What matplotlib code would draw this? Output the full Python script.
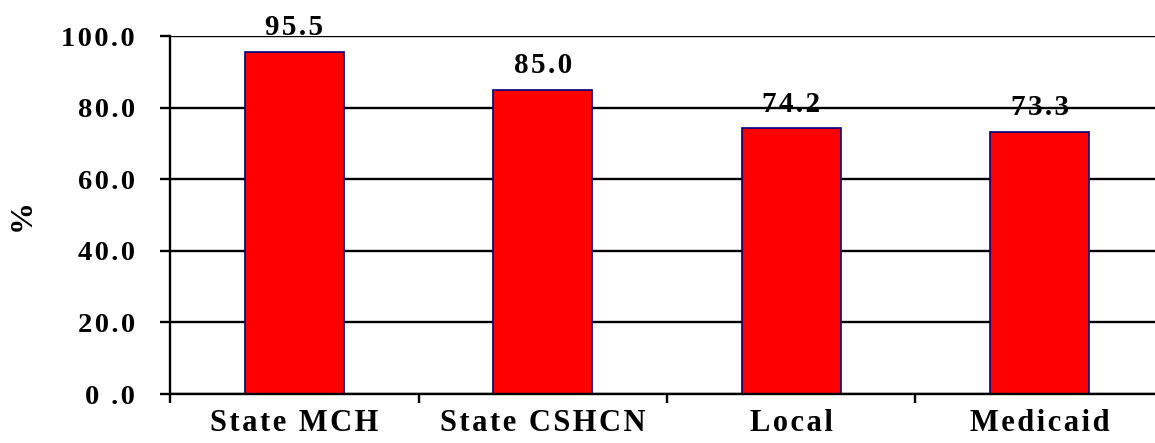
import matplotlib.pyplot as plt

categories = ["State MCH", "State CSHCN", "Local", "Medicaid"]
values = [95.5, 85.0, 74.2, 73.3]
y_ticks = [0, 20, 40, 60, 80, 100]
y_tick_labels = ["0 .0", "20.0", "40.0", "60.0", "80.0", "100.0"]

SERIF = ["Liberation Serif", "DejaVu Serif"]
HAIR = "\u200a"


def spaced(text, gap):
    # loose letter spacing, the way the old spreadsheet chart renders it
    return gap.join(text)


fig = plt.figure(figsize=(11.55, 4.43), dpi=100)
ax = fig.add_axes([170 / 1155, 49 / 443, 994 / 1155, 358 / 443])

x = list(range(len(categories)))
bars = ax.bar(x, values, width=0.4, color="#ff0000", edgecolor="#000080",
              linewidth=1.2, zorder=2)

ax.set_xlim(-0.5, 3.5)
ax.set_ylim(0, 100)
ax.set_axisbelow(True)
ax.yaxis.grid(True, color="black", linewidth=1.7)

for side in ("top", "right", "bottom"):
    ax.spines[side].set_visible(False)
ax.spines["left"].set_linewidth(1.7)
ax.axhline(0, color="black", linewidth=1.7, zorder=2.5, clip_on=False)

# y axis
ax.set_yticks(y_ticks)
ax.set_yticklabels([spaced(t, HAIR) for t in y_tick_labels],
                   fontsize=20.5, fontweight="bold", family=SERIF)
ax.tick_params(axis="y", direction="out", length=7.2, width=1.7, pad=18)

# x axis: labels at bar centres, tick marks between categories
ax.set_xticks(x)
ax.set_xticklabels([spaced(c, HAIR) for c in categories],
                   fontsize=22, fontweight="bold", family=SERIF)
ax.set_xticks([-0.5, 0.5, 1.5, 2.5], minor=True)
ax.tick_params(axis="x", which="major", length=0, pad=11)
ax.tick_params(axis="x", which="minor", direction="out", length=6.5, width=1.7)

for rect, v in zip(bars, values):
    ax.annotate(spaced(f"{v:.1f}", HAIR),
                xy=(rect.get_x() + rect.get_width() / 2, v),
                xytext=(0, 12), textcoords="offset points",
                ha="center", va="baseline", fontsize=21, fontweight="bold",
                family=SERIF, zorder=4)

fig.text(22 / 1155, 1 - 215 / 443, "%", rotation=90, ha="center", va="center",
         fontsize=23, fontweight="bold", family=SERIF)

fig.savefig("out.png", dpi=100)
